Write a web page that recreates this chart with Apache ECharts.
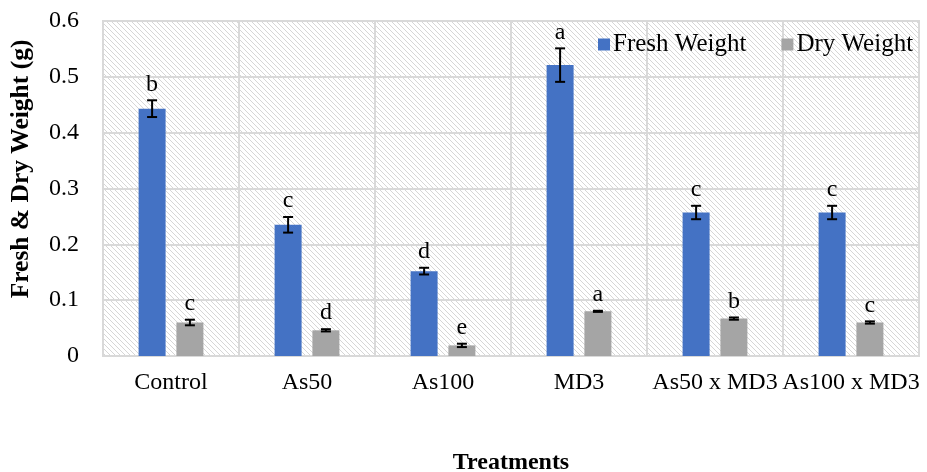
<!DOCTYPE html>
<html><head><meta charset="utf-8">
<script src="https://cdn.jsdelivr.net/npm/echarts@6/dist/echarts.min.js"></script>
<style>html,body{margin:0;padding:0;background:#fff}#c{width:927px;height:472px}</style>
</head><body><div id="c"></div>
<script>
const categories = ['Control', 'As50', 'As100', 'MD3', 'As50 x MD3', 'As100 x MD3'];
const freshWeight = [0.443, 0.235, 0.152, 0.521, 0.257, 0.257];
const freshErr = [0.015, 0.014, 0.006, 0.030, 0.012, 0.012];
const freshLetters = ['b', 'c', 'd', 'a', 'c', 'c'];
const dryWeight = [0.060, 0.046, 0.019, 0.080, 0.067, 0.060];
const dryErr = [0.005, 0.002, 0.003, 0.001, 0.002, 0.002];
const dryLetters = ['c', 'd', 'e', 'a', 'b', 'c'];
const yTicks = [0, 0.1, 0.2, 0.3, 0.4, 0.5, 0.6];

const FONT = '"Liberation Serif", "Times New Roman", serif';
const BAR_W = 27, GAP = 0.4;
const OFFSET = (BAR_W + BAR_W * GAP) / 2;

// hatch pattern
const pc = document.createElement('canvas');
pc.width = 5; pc.height = 5;
const pctx = pc.getContext('2d');
pctx.fillStyle = '#ffffff'; pctx.fillRect(0, 0, 5, 5);
pctx.fillStyle = '#d6d6d6';
for (let i = 0; i < 5; i++) pctx.fillRect(i, i, 1, 1);

function errSeries(values, errs, letters, sign) {
  return {
    type: 'custom',
    z: 5,
    data: values.map((v, i) => [i, v, errs[i]]),
    renderItem: function (params, api) {
      const i = api.value(0), v = api.value(1), e = api.value(2);
      const c = api.coord([i, v]);
      const x = c[0] + sign * OFFSET;
      const yTop = api.coord([i, v + e])[1];
      const yBot = api.coord([i, v - e])[1];
      const cap = 5;
      const st = { stroke: '#000', lineWidth: 2 };
      return {
        type: 'group',
        children: [
          { type: 'line', shape: { x1: x, y1: yTop, x2: x, y2: yBot }, style: st },
          { type: 'line', shape: { x1: x - cap, y1: yTop, x2: x + cap, y2: yTop }, style: st },
          { type: 'line', shape: { x1: x - cap, y1: yBot, x2: x + cap, y2: yBot }, style: st },
          { type: 'text', style: { text: letters[i], x: x, y: yTop - 4, align: 'center', verticalAlign: 'bottom', font: '24px ' + FONT, fill: '#000' } }
        ]
      };
    }
  };
}

const chart = echarts.init(document.getElementById('c'), null, { renderer: 'canvas' });
chart.setOption({
  animation: false,
  backgroundColor: '#ffffff',
  textStyle: { fontFamily: FONT },
  grid: {
    left: 103, right: 8, top: 21, bottom: 116,
    outerBoundsMode: 'none',
    containLabel: false,
    show: true,
    backgroundColor: { image: pc, repeat: 'repeat' },
    borderColor: '#d9d9d9', borderWidth: 2
  },
  legend: {
    data: ['Fresh Weight', 'Dry Weight'],
    left: 593, top: 27,
    icon: 'rect', itemWidth: 12, itemHeight: 12, itemGap: 35,
    textStyle: { fontFamily: FONT, fontSize: 25, color: '#000', padding: [0, 0, 0, -2] }
  },
  graphic: [{
    type: 'text',
    x: 21, y: 169,
    rotation: Math.PI / 2,
    style: { text: 'Fresh & Dry Weight (g)', font: 'bold 25.5px ' + FONT, fill: '#000', align: 'center', verticalAlign: 'middle' }
  }],
  xAxis: {
    type: 'category',
    data: categories,
    axisLine: { show: false },
    axisTick: { show: false },
    axisLabel: { fontFamily: FONT, fontSize: 24, color: '#000', margin: 15, interval: 0 },
    splitLine: { show: true, lineStyle: { color: '#d9d9d9', width: 2 } },
    name: 'Treatments',
    nameLocation: 'middle',
    nameGap: 95,
    nameTextStyle: { fontFamily: FONT, fontSize: 24, fontWeight: 'bold', color: '#000' }
  },
  yAxis: {
    type: 'value',
    min: yTicks[0], max: yTicks[yTicks.length - 1], interval: 0.1,
    axisLine: { show: false },
    axisTick: { show: false },
    axisLabel: {
      fontFamily: FONT, fontSize: 24, color: '#000', margin: 24,
      formatter: v => v === 0 ? '0' : v.toFixed(1)
    },
    splitLine: { show: true, lineStyle: { color: '#d9d9d9', width: 2 } }
  },
  series: [
    { name: 'Fresh Weight', type: 'bar', data: freshWeight, barWidth: BAR_W, barGap: (GAP * 100) + '%', itemStyle: { color: '#4472C4' } },
    { name: 'Dry Weight', type: 'bar', data: dryWeight, barWidth: BAR_W, barGap: (GAP * 100) + '%', itemStyle: { color: '#A5A5A5' } },
    errSeries(freshWeight, freshErr, freshLetters, -1),
    errSeries(dryWeight, dryErr, dryLetters, 1)
  ]
});
</script></body></html>
